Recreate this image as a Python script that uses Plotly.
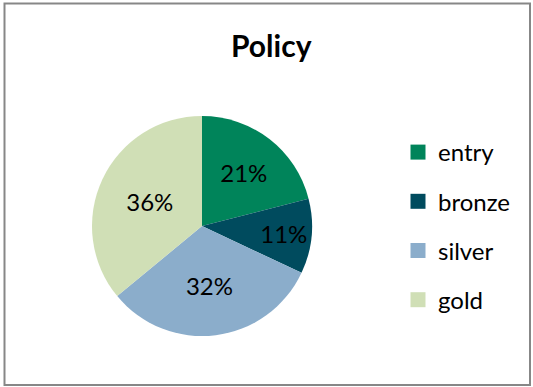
import plotly.graph_objects as go

categories = ["entry", "bronze", "silver", "gold"]
values = [21, 11, 32, 36]
colors = ["#00845A", "#004B5E", "#8BADCB", "#D0DFB6"]

W, H = 533, 387
FONT = "Lato, 'Open Sans', sans-serif"

fig = go.Figure()

# pie domain in pixels: center (202,226), radius 110
cx, cy, r = 202, 226, 110
fig.add_trace(go.Pie(
    labels=categories,
    values=values,
    sort=False,
    direction="clockwise",
    rotation=0,
    marker=dict(colors=colors, line=dict(width=0)),
    texttemplate="%{percent:.0%}",
    textposition="inside",
    insidetextorientation="horizontal",
    textfont=dict(family=FONT, size=24, color="black"),
    showlegend=False,
    hoverinfo="label+percent",
    domain=dict(x=[(cx - r) / W, (cx + r) / W], y=[1 - (cy + r) / H, 1 - (cy - r) / H]),
))

# legend entries
for i, (c, col) in enumerate(zip(categories, colors)):
    fig.add_trace(go.Scatter(
        x=[None], y=[None], mode="markers", name=c,
        marker=dict(symbol="square", size=15, color=col),
        legendgroup=c, showlegend=True,
    ))

fig.update_layout(
    width=W, height=H,
    margin=dict(l=0, r=0, t=0, b=0),
    paper_bgcolor="white", plot_bgcolor="white",
    font=dict(family=FONT, size=24, color="black"),
    xaxis=dict(visible=False), yaxis=dict(visible=False),
    legend=dict(
        x=398 / W, y=1 - 130 / H, xanchor="left", yanchor="top",
        font=dict(family=FONT, size=24, color="black"),
        tracegroupgap=15, bgcolor="rgba(0,0,0,0)",
    ),
    annotations=[dict(
        text="<b>Policy</b>", x=271 / W, y=1 - 45 / H, xref="paper", yref="paper",
        showarrow=False, font=dict(family=FONT, size=30, color="black"),
        xanchor="center", yanchor="middle",
    )],
    shapes=[dict(
        type="rect", xref="paper", yref="paper",
        x0=4.5 / W, x1=530 / W, y0=1 - 385 / H, y1=1 - 3.5 / H,
        line=dict(color="#878787", width=2), fillcolor="rgba(0,0,0,0)",
    )],
)

fig.write_html("out.html")
